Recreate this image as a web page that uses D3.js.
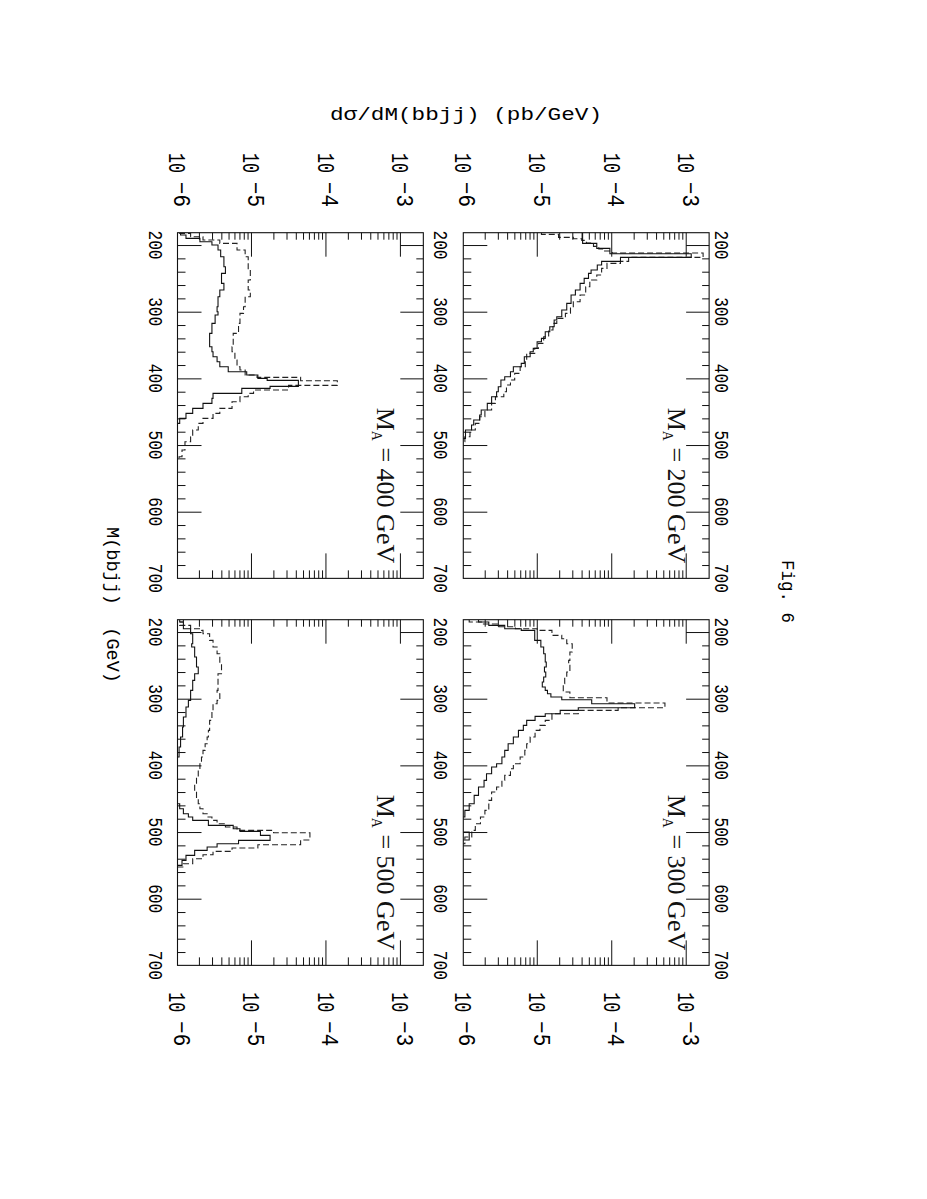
<!DOCTYPE html>
<html><head><meta charset="utf-8">
<script src="https://cdn.jsdelivr.net/npm/d3@7"></script>
<style>body{margin:0;background:#fff}</style>
</head><body>
<svg id="c" width="927" height="1199"></svg>
<script>
// ---------------- data ----------------
const panelMasses = [200, 300, 400, 500];
const massTicks = [200, 300, 400, 500, 600, 700];
const decadeTicks = [1e-6, 1e-5, 1e-4, 1e-3];
const decadeExponents = ["\u22126", "\u22125", "\u22124", "\u22123"];
const minorMultipliers = [2, 3, 4, 5, 6, 7, 8, 9];

// histogram step points: [M(bbjj) lower edge in GeV, dσ/dM in pb/GeV]
const solid200 = [[181.5,4.0e-5],[197.5,6.2e-5],[205,9.3e-5],[213,1.15e-3],[218.5,1.29e-4],[224.5,7.2e-5],[230,6.3e-5],[237.5,5.2e-5],[242.5,4.8e-5],[250,4.2e-5],[257.5,3.7e-5],[267.5,3.2e-5],[275,2.8e-5],[287.5,2.45e-5],[297.5,2.1e-5],[307.5,1.8e-5],[312.5,1.66e-5],[322.5,1.45e-5],[330,1.26e-5],[340,1.12e-5],[345,9.8e-6],[355,8.7e-6],[360,7.9e-6],[367.5,6.6e-6],[377.5,6.0e-6],[382.5,4.7e-6],[390,4.3e-6],[397.5,3.6e-6],[402.5,3.2e-6],[412.5,2.95e-6],[420,2.8e-6],[427.5,2.4e-6],[437.5,2.1e-6],[447.5,1.74e-6],[455,1.66e-6],[462.5,1.38e-6],[470,1.29e-6],[477.5,1.07e-6],[490,5e-7]];
const dashed200 = [[181.5,1.12e-5],[184,1.9e-5],[188.5,3.0e-5],[190.5,3.9e-5],[193,4.5e-5],[197,5.6e-5],[202,6.6e-5],[206,7.9e-5],[209,1.0e-4],[212,1.66e-3],[218.5,1.66e-4],[224.5,1.29e-4],[227.5,8.5e-5],[235,7.2e-5],[245,6.2e-5],[252.5,5.0e-5],[262.5,4.4e-5],[275,3.7e-5],[285,3.0e-5],[292.5,2.75e-5],[302.5,2.35e-5],[310,1.8e-5],[317.5,1.6e-5],[327.5,1.4e-5],[337.5,1.2e-5],[347.5,1.02e-5],[355,9.1e-6],[362.5,7.1e-6],[372.5,6.8e-6],[382.5,5.8e-6],[392.5,4.9e-6],[402.5,4.3e-6],[410,3.8e-6],[420,3.5e-6],[427.5,2.7e-6],[437.5,2.4e-6],[447.5,1.95e-6],[457.5,1.66e-6],[467.5,1.45e-6],[477.5,1.23e-6],[487.5,1.05e-6],[495,5e-7]];

const solid300 = [[181.5,1.6e-6],[185,2.2e-6],[190,3.6e-6],[195,6.0e-6],[197.5,9.1e-6],[212.5,1.1e-5],[222.5,1.2e-5],[232.5,1.26e-5],[245,1.3e-5],[252.5,1.23e-5],[260,1.28e-5],[267.5,1.2e-5],[275,1.15e-5],[282.5,1.26e-5],[287.5,1.35e-5],[292.5,1.5e-5],[297.5,2.1e-5],[301.5,5.3e-5],[307.5,2.0e-4],[313.5,3.5e-5],[317.5,2.0e-5],[322.5,1.26e-5],[326.5,9.2e-6],[332.5,7.1e-6],[340,6.4e-6],[347.5,5.5e-6],[357.5,4.7e-6],[367.5,4.0e-6],[377.5,3.6e-6],[387.5,3.3e-6],[397.5,2.8e-6],[402.5,2.4e-6],[412.5,2.05e-6],[422.5,1.9e-6],[432.5,1.6e-6],[445,1.4e-6],[457.5,1.2e-6],[467.5,1.05e-6],[477.5,5e-7],[500,1.2e-6],[512,5e-7]];
const dashed300 = [[181.5,1.2e-6],[185,1.8e-6],[188,3.0e-6],[192,5.0e-6],[195,9.8e-6],[197.5,1.55e-5],[205,2.1e-5],[210,2.45e-5],[217.5,2.9e-5],[230,2.7e-5],[242.5,2.6e-5],[250,2.7e-5],[260,2.45e-5],[267.5,2.3e-5],[277.5,2.2e-5],[290,2.7e-5],[298.5,8.5e-5],[306.5,5.1e-4],[313.5,1.2e-4],[317.5,3.5e-5],[322.5,1.55e-5],[332.5,1.26e-5],[340,1.07e-5],[347.5,9.2e-6],[357.5,7.9e-6],[367.5,7.1e-6],[377.5,6.7e-6],[387.5,5.8e-6],[397.5,4.7e-6],[405,4.3e-6],[415,3.6e-6],[422.5,3.3e-6],[432.5,2.8e-6],[440,2.4e-6],[452.5,2.2e-6],[467.5,1.95e-6],[477.5,1.7e-6],[487.5,1.45e-6],[497.5,1.3e-6],[507.5,1.05e-6],[517.5,5e-7]];

const solid400 = [[181.5,1.1e-6],[185,1.3e-6],[190,2.0e-6],[195,2.9e-6],[200,3.5e-6],[207.5,3.8e-6],[217.5,4.2e-6],[232.5,4.4e-6],[242.5,3.9e-6],[257.5,4.2e-6],[267.5,3.7e-6],[277.5,3.5e-6],[292.5,3.4e-6],[300,3.5e-6],[305,3.2e-6],[317.5,2.9e-6],[332.5,2.7e-6],[352.5,2.9e-6],[360,3.0e-6],[367.5,3.4e-6],[375,3.7e-6],[382.5,4.8e-6],[390,8.5e-6],[395,1.2e-5],[400,1.6e-5],[403,4.2e-5],[412,1.75e-5],[415,7.3e-6],[422.5,3.0e-6],[430,2.9e-6],[437.5,2.2e-6],[445,1.6e-6],[452.5,1.3e-6],[460,1.07e-6],[467.5,5e-7]];
const dashed400 = [[181.5,1.07e-6],[182.5,1.5e-6],[187.5,2.2e-6],[192.5,3.7e-6],[197.5,6.3e-6],[207.5,8.1e-6],[217.5,8.9e-6],[237.5,9.5e-6],[252.5,8.9e-6],[267.5,9.5e-6],[277.5,8.1e-6],[292.5,7.7e-6],[302.5,6.9e-6],[317.5,6.6e-6],[332.5,5.6e-6],[352.5,5.4e-6],[360,5.9e-6],[372.5,6.3e-6],[382.5,6.9e-6],[387.5,8.1e-6],[395,1.17e-5],[398.5,4.5e-5],[403.5,1.4e-4],[410.5,3.1e-5],[417.5,1.05e-5],[422.5,8.9e-6],[427.5,6.9e-6],[435,5.4e-6],[445,3.7e-6],[452.5,3.0e-6],[460,2.2e-6],[467.5,1.9e-6],[477.5,1.6e-6],[487.5,1.5e-6],[495,1.26e-6],[507.5,1.15e-6],[517.5,1.05e-6],[522.5,5e-7]];

const solid500 = [[181.5,1.07e-6],[185,1.2e-6],[195,1.5e-6],[202.5,1.6e-6],[217.5,1.55e-6],[222.5,1.7e-6],[237.5,1.8e-6],[252.5,1.9e-6],[262.5,1.7e-6],[272.5,1.6e-6],[287.5,1.5e-6],[302.5,1.4e-6],[312.5,1.3e-6],[327.5,1.2e-6],[342.5,1.17e-6],[357.5,1.1e-6],[372.5,1.05e-6],[387.5,5e-7],[457.5,1.07e-6],[465,1.2e-6],[472.5,1.4e-6],[477.5,1.6e-6],[482.5,2.6e-6],[490,5.6e-6],[495,6.9e-6],[499,1.3e-5],[505,1.75e-5],[512.5,6.6e-6],[517.5,3.4e-6],[522.5,2.5e-6],[527.5,1.7e-6],[535,1.3e-6],[542.5,1.15e-6],[550,5e-7]];
const dashed500 = [[181.5,1.2e-6],[185,1.07e-6],[190,1.5e-6],[195,2.1e-6],[197.5,2.2e-6],[202.5,2.7e-6],[212.5,3.0e-6],[222.5,3.4e-6],[232.5,3.7e-6],[247.5,3.9e-6],[262.5,3.5e-6],[287.5,3.4e-6],[292.5,3.7e-6],[302.5,3.4e-6],[307.5,3.0e-6],[317.5,2.9e-6],[332.5,2.7e-6],[347.5,2.6e-6],[357.5,2.5e-6],[367.5,2.35e-6],[377.5,2.2e-6],[387.5,2.1e-6],[397.5,2.0e-6],[407.5,1.9e-6],[417.5,1.8e-6],[427.5,1.7e-6],[440,1.8e-6],[450,1.9e-6],[457.5,2.0e-6],[465,2.2e-6],[472.5,2.5e-6],[477.5,2.9e-6],[482.5,3.4e-6],[487.5,4.4e-6],[492.5,6.3e-6],[497.5,1.95e-5],[501,6.0e-5],[512,4.5e-5],[519,1.2e-5],[524,5.4e-6],[529,3.0e-6],[534,2.2e-6],[540,1.6e-6],[547.5,1.2e-6],[552.5,5e-7]];

const solidSeries = [solid200, solid300, solid400, solid500];
const dashedSeries = [dashed200, dashed300, dashed400, dashed500];

// ---------------- layout ----------------
const W = 927;
const mDomain = [181.5, 700];
const valDomain = [1e-6, 2e-3];
const pxPerGeV = 2 / 3;
const decadePx = 74.47;
const colU0 = [232.7, 619.7];
const rowV1 = [463.7, 749.5];
const panelCol = [0, 1, 0, 1];
const panelRow = [0, 0, 1, 1];
const labelDrop = [19, 23.5];
const massLabelBaselines = [212, 493, 778];

const svg = d3.select("#c");
svg.append("rect").attr("width", 927).attr("height", 1199).attr("fill", "#fff");
// page is rotated 90° clockwise: original (u,v) -> image (W - v, u)
const g = svg.append("g").attr("transform", `translate(${W},0) rotate(90)`);

const monoFont = "'Liberation Mono', 'DejaVu Sans Mono', monospace";
const serifFont = "'Liberation Serif', 'DejaVu Serif', serif";

const logMinor = [];
decadeTicks.slice(0, 3).forEach(d => minorMultipliers.forEach(m => logMinor.push(m * d)));
const massMinor = d3.range(220, 700, 20).filter(m => m % 100 !== 0);

panelMasses.forEach((mass, i) => {
  const u0 = colU0[panelCol[i]], v1 = rowV1[panelRow[i]];
  const x = d3.scaleLinear().domain(mDomain).range([u0, u0 + (mDomain[1] - mDomain[0]) * pxPerGeV]);
  const y = d3.scaleLog().domain(valDomain)
    .range([v1, v1 - decadePx * Math.log10(valDomain[1] / valDomain[0])]);
  const [uA, uB] = x.range();
  const vB = y.range()[0], vA = y.range()[1];

  const pg = g.append("g");
  const cid = "clip" + i;
  pg.append("clipPath").attr("id", cid).append("rect")
    .attr("x", uA).attr("y", vA).attr("width", uB - uA).attr("height", vB - vA);

  const line = d3.line().x(d => x(d[0])).y(d => y(d[1])).curve(d3.curveStepAfter);
  const hg = pg.append("g").attr("clip-path", `url(#${cid})`);
  hg.append("path").datum(dashedSeries[i]).attr("d", line)
    .attr("fill", "none").attr("stroke", "#222").attr("stroke-width", 1.1)
    .attr("stroke-dasharray", "6,3");
  hg.append("path").datum(solidSeries[i]).attr("d", line)
    .attr("fill", "none").attr("stroke", "#111").attr("stroke-width", 1.1);

  // axes ticks (inside, on all four sides)
  const strip = s => s.call(a => a.select(".domain").remove()).attr("color", "#111");
  const addAx = (axis, tx, ty) => strip(pg.append("g").attr("transform", `translate(${tx},${ty})`).call(axis));
  const majorMass = massTicks.filter(m => m < 700);
  addAx(d3.axisBottom(x).tickValues(massMinor).tickSize(-8).tickFormat(""), 0, vB);
  addAx(d3.axisBottom(x).tickValues(majorMass).tickSize(-24).tickFormat(""), 0, vB);
  addAx(d3.axisTop(x).tickValues(massMinor).tickSize(-7).tickFormat(""), 0, vA);
  addAx(d3.axisTop(x).tickValues(majorMass).tickSize(-23).tickFormat(""), 0, vA);
  const majorLog = decadeTicks.slice(1);
  addAx(d3.axisLeft(y).tickValues(logMinor).tickSize(-7).tickFormat(""), uA, 0);
  addAx(d3.axisLeft(y).tickValues(majorLog).tickSize(-24).tickFormat(""), uA, 0);
  addAx(d3.axisRight(y).tickValues(logMinor).tickSize(-8).tickFormat(""), uB, 0);
  addAx(d3.axisRight(y).tickValues(majorLog).tickSize(-25).tickFormat(""), uB, 0);
  pg.selectAll(".tick line").attr("stroke-width", 1);

  // frame
  pg.append("rect").attr("x", uA).attr("y", vA).attr("width", uB - uA).attr("height", vB - vA)
    .attr("fill", "none").attr("stroke", "#111").attr("stroke-width", 1.1);

  // log labels (left of left column, right of right column)
  decadeTicks.forEach((d, k) => {
    const start = panelCol[i] === 0 ? uA - 79.7 : uB + 27;
    pg.append("text").attr("x", start).attr("y", y(d) + 8.5)
      .attr("font-family", monoFont).attr("font-size", 23)
      .attr("textLength", 20).attr("lengthAdjust", "spacingAndGlyphs").text("10");
    pg.append("text").attr("x", start + 29).attr("y", y(d) + 4)
      .attr("font-family", monoFont).attr("font-size", 23)
      .attr("textLength", 25).attr("lengthAdjust", "spacingAndGlyphs").text(decadeExponents[k]);
  });

  // mass labels
  const baselines = panelRow[i] === 0 ? [massLabelBaselines[0], massLabelBaselines[1]] : [massLabelBaselines[2]];
  baselines.forEach(b => {
    massTicks.forEach(m => {
      pg.append("text").attr("x", x(m) - 14.5).attr("y", b)
        .attr("font-family", monoFont).attr("font-size", 21)
        .attr("textLength", 29).attr("lengthAdjust", "spacingAndGlyphs").text(m);
    });
  });

  // M_A label
  const t = pg.append("text").attr("x", uA + 175).attr("y", y(1e-3) + labelDrop[panelRow[i]])
    .attr("font-family", serifFont).attr("font-size", 26).attr("fill", "#111");
  t.append("tspan").text("M");
  t.append("tspan").attr("font-size", 14).attr("dy", 5).text("A");
  t.append("tspan").attr("dy", -5).text(" = " + mass + " GeV");
});

// Fig. 6
g.append("text").attr("x", 560).attr("y", 145).attr("font-family", monoFont)
  .attr("font-size", 17.5).attr("textLength", 63).attr("lengthAdjust", "spacingAndGlyphs")
  .text("Fig. 6");

// x-axis title
g.append("text").attr("x", 527).attr("y", 820).attr("font-family", monoFont)
  .attr("font-size", 19).attr("textLength", 156).attr("lengthAdjust", "spacingAndGlyphs")
  .style("white-space", "pre").text("M(bbjj)  (GeV)");

// y-axis title (appears horizontal on the rotated page)
svg.append("text").attr("x", 330).attr("y", 119.5).attr("font-family", monoFont)
  .attr("font-size", 18).attr("textLength", 272).attr("lengthAdjust", "spacingAndGlyphs")
  .text("d\u03c3/dM(bbjj) (pb/GeV)");
</script>
</body></html>
